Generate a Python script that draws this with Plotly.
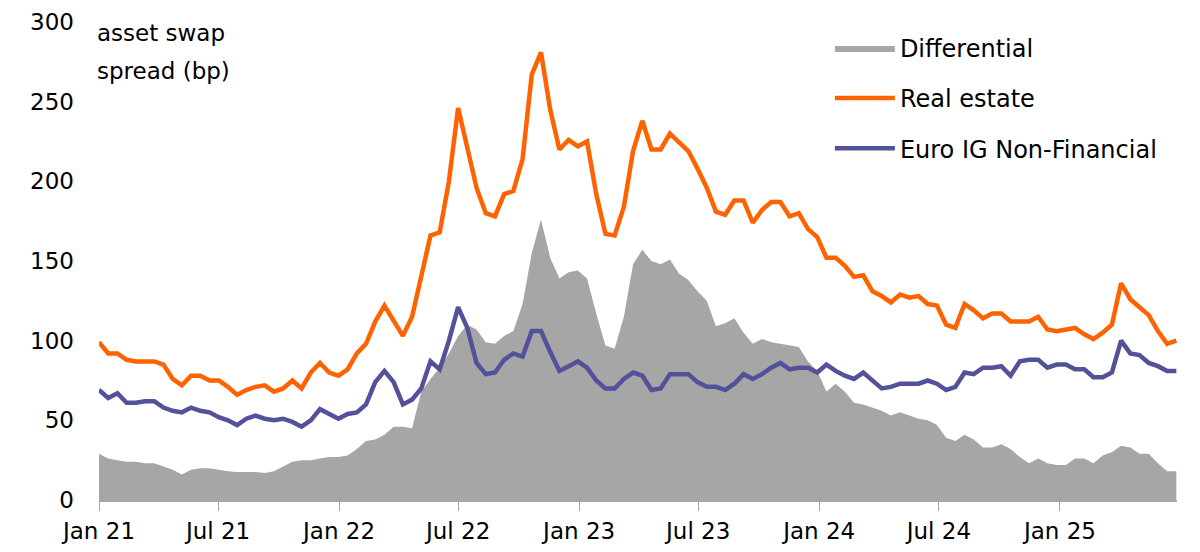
import plotly.graph_objects as go
import pandas as pd

start_date = "2021-01-01"

real_estate = [
    99, 92, 92, 88, 87, 87, 87, 85, 76, 72, 78, 78, 75, 75, 71, 66, 69, 71, 72, 68,
    70, 75, 70, 80, 86, 80, 78, 82, 92, 98, 112, 122, 112, 103, 115, 142, 166, 168, 200, 246,
    220, 196, 180, 178, 192, 194, 214, 267, 281, 245, 220, 226, 222, 225, 192, 167, 166, 184, 219, 238,
    220, 220, 230, 224, 219, 208, 196, 181, 179, 188, 188, 174, 182, 187, 187, 178, 180, 170, 165, 152,
    152, 147, 140, 141, 131, 128, 124, 129, 127, 128, 123, 122, 110, 108, 123, 119, 114, 117, 117, 112,
    112, 112, 115, 107, 106, 107, 108, 104, 101, 105, 110, 136, 126, 121, 116, 106, 98, 100,
]

euro_ig = [
    69, 64, 67, 61, 61, 62, 62, 58, 56, 55, 58, 56, 55, 52, 50, 47, 51, 53, 51, 50,
    51, 49, 46, 50, 57, 54, 51, 54, 55, 60, 74, 81, 74, 60, 63, 70, 87, 82, 100, 121,
    108, 86, 79, 80, 88, 92, 90, 106, 106, 93, 81, 84, 87, 83, 75, 70, 70, 76, 80, 78,
    69, 70, 79, 79, 79, 74, 71, 71, 69, 73, 79, 76, 79, 83, 86, 82, 83, 83, 80, 85,
    81, 78, 76, 80, 75, 70, 71, 73, 73, 73, 75, 73, 69, 71, 80, 79, 83, 83, 84, 78,
    87, 88, 88, 83, 85, 85, 82, 82, 77, 77, 80, 100, 92, 91, 86, 84, 81, 81,
]

differential = [
    29, 26, 25, 24, 24, 23, 23, 21, 19, 16, 19, 20, 20, 19, 18, 17.5, 17.5, 17.5, 17, 18,
    21, 24, 25, 25, 26, 27, 27, 28, 32, 37, 38, 41, 46, 46, 45, 68, 76, 83, 92, 103,
    110, 107, 99, 98, 103, 106, 123, 155, 176, 152, 139, 143, 144, 139, 117, 97, 95, 115, 148, 157,
    150, 148, 151, 142, 138, 131, 125, 109, 111, 114, 105, 98, 101, 99, 98, 97, 96, 87, 81, 68,
    73, 68, 61, 60, 58, 56, 53, 55, 53, 51, 50, 47, 39, 37, 41, 38, 33, 33, 35, 32,
    27, 23, 26, 23, 22, 22, 26, 26, 23, 28, 30, 34, 33, 29, 29, 23, 18, 18,
]

tick_dates = ["2021-01-01", "2021-07-01", "2022-01-01", "2022-07-01", "2023-01-01",
              "2023-07-01", "2024-01-01", "2024-07-01", "2025-01-01"]
tick_labels = ["Jan 21", "Jul 21", "Jan 22", "Jul 22", "Jan 23",
               "Jul 23", "Jan 24", "Jul 24", "Jan 25"]

dates = pd.date_range(start_date, periods=len(real_estate), freq="14D")

font_family = "DejaVu Sans"

fig = go.Figure()
fig.add_trace(go.Scatter(
    x=dates, y=differential, name="Differential",
    mode="lines", line=dict(width=0, color="#a6a6a6"),
    fill="tozeroy", fillcolor="#a6a6a6",
    legendgroup="a",
))
fig.add_trace(go.Scatter(
    x=dates, y=real_estate, name="Real estate",
    mode="lines", line=dict(width=4.5, color="#ff6200"),
    legendgroup="b",
))
fig.add_trace(go.Scatter(
    x=dates, y=euro_ig, name="Euro IG Non-Financial",
    mode="lines", line=dict(width=4.5, color="#525199"),
    legendgroup="c",
))

# y-axis title sits inside the plot, two lines
for txt, ypos in [("asset swap", 0.977), ("spread (bp)", 0.898)]:
    fig.add_annotation(
        text=txt, xref="paper", yref="paper",
        x=-0.004, y=ypos, xanchor="left", yanchor="middle", align="left",
        showarrow=False, font=dict(size=23, color="#000000", family=font_family),
    )

# the page body adds an 8px offset, so margins are trimmed to compensate
fig.update_layout(
    width=1200, height=552,
    margin=dict(l=91, r=31, t=14, b=60),
    plot_bgcolor="white", paper_bgcolor="white",
    font=dict(family=font_family, size=23, color="#000000"),
    showlegend=True,
    legend=dict(
        x=0.678, y=0.992, xanchor="left", yanchor="top",
        font=dict(size=24, color="#000000"),
        bgcolor="rgba(0,0,0,0)",
        traceorder="grouped", tracegroupgap=16,
        itemwidth=60,
    ),
    xaxis=dict(
        range=["2021-01-01", "2025-06-28"],
        tickmode="array", tickvals=tick_dates, ticktext=tick_labels,
        showline=True, linecolor="#a6a6a6", linewidth=1.5,
        ticks="outside", tickcolor="#a6a6a6", ticklen=9, tickwidth=1,
        showgrid=False, zeroline=False,
        ticklabelstandoff=1, automargin=False,
        ticklabeloverflow="allow",
    ),
    yaxis=dict(
        range=[0, 300], tickvals=[0, 50, 100, 150, 200, 250, 300],
        showgrid=False, zeroline=False, showline=False, ticks="",
        ticklabelstandoff=24, automargin=False,
        ticklabeloverflow="allow",
    ),
)

fig.write_html("out.html")
